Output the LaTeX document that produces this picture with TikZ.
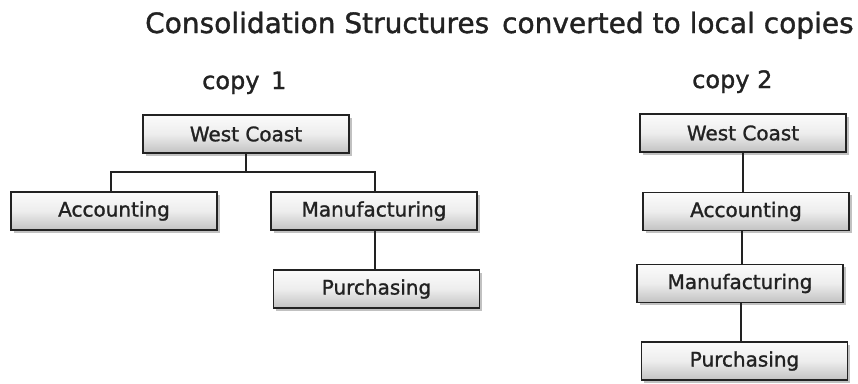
\documentclass[tikz,border=0pt]{standalone}
\usepackage{fontspec}
\setmainfont{DejaVu Sans}[FakeBold=1.3]
\usetikzlibrary{shadows}
\definecolor{txt}{HTML}{222222}
\definecolor{edge}{HTML}{222222}
\tikzset{
  orgbox/.style={rectangle, draw=edge, line width=1.4pt, minimum width=206pt, minimum height=38pt,
    inner sep=0pt, top color=white!97!gray, bottom color=black!24, middle color=white!86!gray,
    text=txt, font=\fontsize{20}{24}\selectfont,
    drop shadow={shadow xshift=2.5pt, shadow yshift=-2.5pt, opacity=0.4, fill=black!60}},
  link/.style={draw=edge, line width=1.4pt},
  heading/.style={anchor=base west, inner sep=0pt, text=txt}
}
\begin{document}
\begin{tikzpicture}[x=1pt,y=-1pt]
\useasboundingbox[fill=white] (0,0) rectangle (858,383);
\node[heading, font=\fontsize{28}{31}\selectfont] (title) at (145,33) {Consolidation Structures\hspace{4pt} converted to local copies};
\node[heading, font=\fontsize{24}{28}\selectfont] (c1) at (202,89) {copy\hspace{4pt} 1};
\node[heading, font=\fontsize{24}{28}\selectfont] (c2) at (692,88) {copy 2};
% copy 1
\node[orgbox] (wc1) at (246,134) {West Coast};
\node[orgbox] (acc1) at (114,211) {Accounting};
\node[orgbox] (man1) at (374,211) {Manufacturing};
\node[orgbox] (pur1) at (376.5,289) {Purchasing};
\coordinate (j1) at (246,172);
\draw[link] (wc1.south) -- (j1);
\draw[link] (j1) -| ([xshift=-3pt]acc1.north);
\draw[link] (j1) -| ([xshift=1pt]man1.north);
\draw[link] ([xshift=1pt]man1.south) -- ([xshift=1pt]man1.south |- pur1.north);
% copy 2
\node[orgbox] (wc2) at (743,133) {West Coast};
\node[orgbox] (acc2) at (746,211.5) {Accounting};
\node[orgbox] (man2) at (740,283.5) {Manufacturing};
\node[orgbox] (pur2) at (744.5,361) {Purchasing};
\draw[link] (wc2.south) -- (wc2.south |- acc2.north);
\draw[link] ([xshift=-4pt]acc2.south) -- ([xshift=-4pt]acc2.south |- man2.north);
\draw[link] ([xshift=1pt]man2.south) -- ([xshift=1pt]man2.south |- pur2.north);
\end{tikzpicture}
\end{document}
